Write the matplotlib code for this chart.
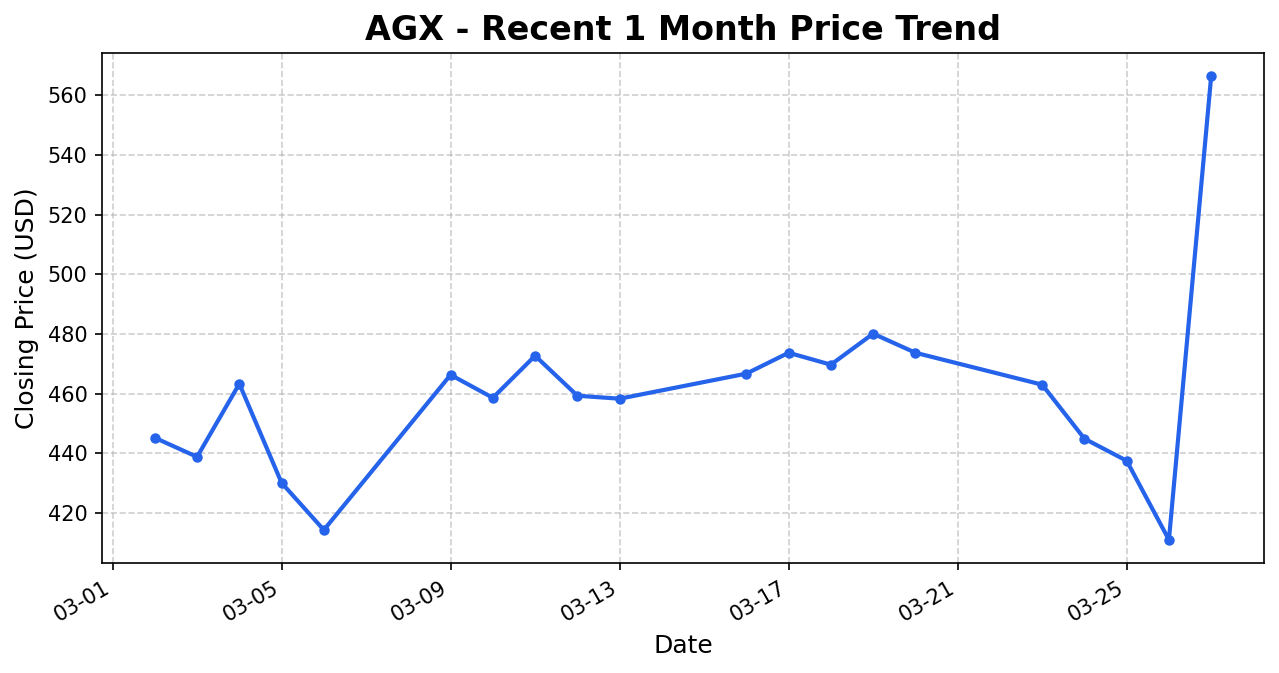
import matplotlib
matplotlib.use("Agg")
import matplotlib.pyplot as plt
import matplotlib.dates as mdates
import pandas as pd

# Closing prices
dates = ["2026-03-02", "2026-03-03", "2026-03-04", "2026-03-05", "2026-03-06",
         "2026-03-09", "2026-03-10", "2026-03-11", "2026-03-12", "2026-03-13",
         "2026-03-16", "2026-03-17", "2026-03-18", "2026-03-19", "2026-03-20",
         "2026-03-23", "2026-03-24", "2026-03-25", "2026-03-26", "2026-03-27"]
closes = [445.2, 438.8, 463.3, 430.1, 414.3,
          466.3, 458.6, 472.7, 459.3, 458.3,
          466.7, 473.7, 469.7, 480.1, 473.7,
          463.0, 444.9, 437.5, 411.0, 566.4]

x = pd.to_datetime(dates)

fig, ax = plt.subplots(figsize=(1279 / 150, 673 / 150), dpi=150)
ax.plot(x, closes, color="#2563eb", linewidth=2, marker="o", markersize=4)

ax.set_title("AGX - Recent 1 Month Price Trend", fontsize=16, fontweight="bold")
ax.set_xlabel("Date", fontsize=12)
ax.set_ylabel("Closing Price (USD)", fontsize=12)
ax.grid(True, linestyle="--", alpha=0.6)
ax.xaxis.set_major_formatter(mdates.DateFormatter("%m-%d"))
fig.autofmt_xdate()

fig.subplots_adjust(left=102 / 1279, right=1264 / 1279, top=1 - 53 / 673, bottom=1 - 563 / 673)
fig.savefig("out.png", dpi=150)
